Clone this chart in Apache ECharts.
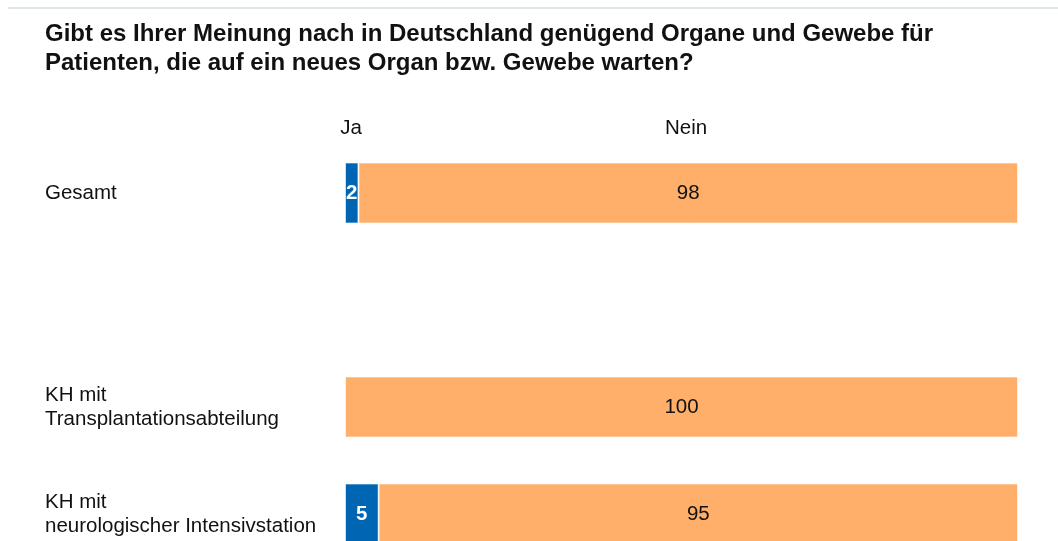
<!DOCTYPE html>
<html>
<head>
<meta charset="utf-8">
<script src="https://cdn.jsdelivr.net/npm/echarts@6/dist/echarts.min.js"></script>
<style>
html, body { margin: 0; padding: 0; background: #fff; }
#main { width: 1058px; height: 541px; }
</style>
</head>
<body>
<div id="main"></div>
<script>
var categories = ['Gesamt', '', 'KH mit\nTransplantationsabteilung', 'KH mit\nneurologischer Intensivstation'];
var jaValues = [2, null, 0, 5];
var neinValues = [98, null, 100, 95];
var seriesNames = ['Ja', 'Nein'];

var myChart = echarts.init(document.getElementById('main'));

var option = {
	backgroundColor: '#fff',
	animation: false,
	textStyle: { fontFamily: 'Arial, "Liberation Sans", sans-serif' },
	graphic: [
		{
			type: 'line',
			shape: { x1: 8, y1: 8, x2: 1058, y2: 8 },
			style: { stroke: '#dfe7e5', lineWidth: 2 }
		},
		{
			type: 'text',
			left: 45,
			top: 20,
			style: {
				text: 'Gibt es Ihrer Meinung nach in Deutschland genügend Organe und Gewebe für\nPatienten, die auf ein neues Organ bzw. Gewebe warten?',
				font: 'bold 24px Arial, "Liberation Sans", sans-serif',
				lineHeight: 29,
				fill: '#111'
			}
		},
		{
			type: 'text',
			x: 351,
			y: 128,
			style: {
				text: seriesNames[0],
				font: '20.5px Arial, "Liberation Sans", sans-serif',
				fill: '#111',
				align: 'center',
				verticalAlign: 'middle'
			}
		},
		{
			type: 'text',
			x: 686,
			y: 128,
			style: {
				text: seriesNames[1],
				font: '20.5px Arial, "Liberation Sans", sans-serif',
				fill: '#111',
				align: 'center',
				verticalAlign: 'middle'
			}
		}
	],
	grid: {
		left: 345,
		top: 139.5,
		width: 673,
		height: 428,
		containLabel: false,
		outerBoundsMode: 'none'
	},
	xAxis: {
		type: 'value',
		min: 0,
		max: 100,
		show: false
	},
	yAxis: {
		type: 'category',
		inverse: true,
		data: categories,
		axisLine: { show: false },
		axisTick: { show: false },
		axisLabel: {
			align: 'left',
			margin: 300,
			fontSize: 20.5,
			lineHeight: 24,
			color: '#111'
		}
	},
	series: [
		{
			name: seriesNames[0],
			type: 'bar',
			stack: 'total',
			barWidth: 61,
			data: jaValues,
			itemStyle: { color: '#0066b3', borderColor: 'rgba(255,255,255,0.6)', borderWidth: 1 },
			label: {
				show: true,
				position: 'inside',
				color: '#fff',
				fontWeight: 'bold',
				fontSize: 20.5,
				formatter: function (p) { return p.value ? p.value : ''; }
			}
		},
		{
			name: seriesNames[1],
			type: 'bar',
			stack: 'total',
			barWidth: 61,
			data: neinValues,
			itemStyle: { color: '#ffaf69', borderColor: 'rgba(255,255,255,0.6)', borderWidth: 1 },
			label: {
				show: true,
				position: 'inside',
				color: '#111',
				fontSize: 20.5,
				formatter: function (p) { return p.value ? p.value : ''; }
			}
		}
	]
};
myChart.setOption(option);
</script>
</body>
</html>
